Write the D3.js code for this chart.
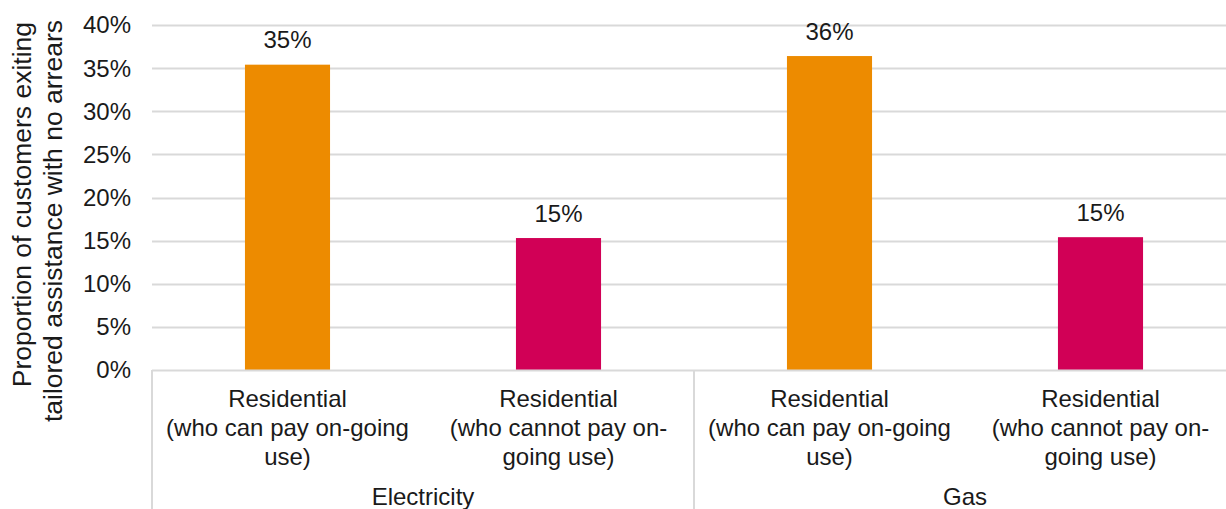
<!DOCTYPE html>
<html>
<head>
<meta charset="utf-8">
<script src="https://cdn.jsdelivr.net/npm/d3@7"></script>
<style>
  html, body { margin: 0; padding: 0; background: #fff; }
  svg { display: block; font-family: "Liberation Sans", Arial, sans-serif; }
</style>
</head>
<body>
<svg id="chart" width="1226" height="509"></svg>
<script>
// ---- data ----
const categories = ["elec-can", "elec-cannot", "gas-can", "gas-cannot"];
const categoryLabels = [
  ["Residential", "(who can pay on-going", "use)"],
  ["Residential", "(who cannot pay on-", "going use)"],
  ["Residential", "(who can pay on-going", "use)"],
  ["Residential", "(who cannot pay on-", "going use)"]
];
const groups = ["Electricity", "Gas"];
const groupOf = [0, 0, 1, 1];
const values = [35.4, 15.3, 36.4, 15.4];
const barColors = ["#ED8B00", "#D10056", "#ED8B00", "#D10056"];
const yTicks = [0, 5, 10, 15, 20, 25, 30, 35, 40];
const yTitle = ["Proportion of customers exiting", "tailored assistance with no arrears"];

// ---- layout ----
const W = 1226, H = 509;
const mLeft = 152, mRight = 1236, mTop = 25, mBottom = 370;
const fs = 24;
const titleFs = 26.5;
const textColor = "#1a1a1a";
const gridColor = "#d9d9d9";

const svg = d3.select("#chart");

const x = d3.scaleBand().domain(categories).range([mLeft, mRight])
  .paddingInner(0.686).paddingOuter(0.343);
const step = x.step();
const y = d3.scaleLinear().domain([0, 40]).range([mBottom, mTop]);

// gridlines
svg.append("g").selectAll("line").data(yTicks.filter(d => d > 0)).join("line")
  .attr("x1", mLeft).attr("x2", W)
  .attr("y1", d => Math.round(y(d)) + 0.5).attr("y2", d => Math.round(y(d)) + 0.5)
  .attr("stroke", gridColor).attr("stroke-width", 2);

// y tick labels
svg.append("g").selectAll("text").data(yTicks).join("text")
  .attr("x", 131).attr("y", d => y(d))
  .attr("dy", "0.35em")
  .attr("text-anchor", "end")
  .attr("font-size", fs).attr("fill", textColor)
  .text(d => d + "%");

// bars
svg.append("g").selectAll("rect").data(values).join("rect")
  .attr("x", (d, i) => x(categories[i]))
  .attr("width", x.bandwidth())
  .attr("y", d => y(d))
  .attr("height", d => y(0) - y(d))
  .attr("fill", (d, i) => barColors[i]);

// data labels
svg.append("g").selectAll("text").data(values).join("text")
  .attr("x", (d, i) => x(categories[i]) + x.bandwidth() / 2)
  .attr("y", d => y(d) - 16.5)
  .attr("text-anchor", "middle")
  .attr("font-size", fs).attr("fill", textColor)
  .text(d => Math.round(d) + "%");

// x axis line
svg.append("line")
  .attr("x1", mLeft).attr("x2", W)
  .attr("y1", mBottom + 0.5).attr("y2", mBottom + 0.5)
  .attr("stroke", gridColor).attr("stroke-width", 2);

// group separators (vertical)
const sepX = [0, 2, 4].map(k => mLeft + k * step);
svg.append("g").selectAll("line").data(sepX).join("line")
  .attr("x1", d => d).attr("x2", d => d)
  .attr("y1", mBottom).attr("y2", H)
  .attr("stroke", gridColor).attr("stroke-width", 2);

// category labels
const catG = svg.append("g");
categories.forEach((c, i) => {
  const t = catG.append("text")
    .attr("text-anchor", "middle")
    .attr("font-size", fs).attr("fill", textColor);
  categoryLabels[i].forEach((ln, j) => {
    t.append("tspan")
      .attr("x", x(c) + x.bandwidth() / 2)
      .attr("y", 407 + j * 29)
      .text(ln);
  });
});

// group labels
svg.append("g").selectAll("text").data(groups).join("text")
  .attr("x", (d, g) => {
    const idx = groupOf.map((v, i) => v === g ? i : -1).filter(i => i >= 0);
    const a = x(categories[idx[0]]) - x.step() * x.paddingInner() / 2;
    const b = x(categories[idx[idx.length - 1]]) + x.bandwidth() + x.step() * x.paddingInner() / 2;
    return (a + b) / 2;
  })
  .attr("y", 505)
  .attr("text-anchor", "middle")
  .attr("font-size", fs).attr("fill", textColor)
  .text(d => d);

// y axis title
const yt = svg.append("text")
  .attr("transform", "rotate(-90)")
  .attr("text-anchor", "end")
  .attr("font-size", titleFs).attr("fill", textColor);
const titleEnds = [22, 20];
yTitle.forEach((ln, j) => {
  yt.append("tspan").attr("x", -titleEnds[j]).attr("y", 31 + j * 31).text(ln);
});
</script>
</body>
</html>
